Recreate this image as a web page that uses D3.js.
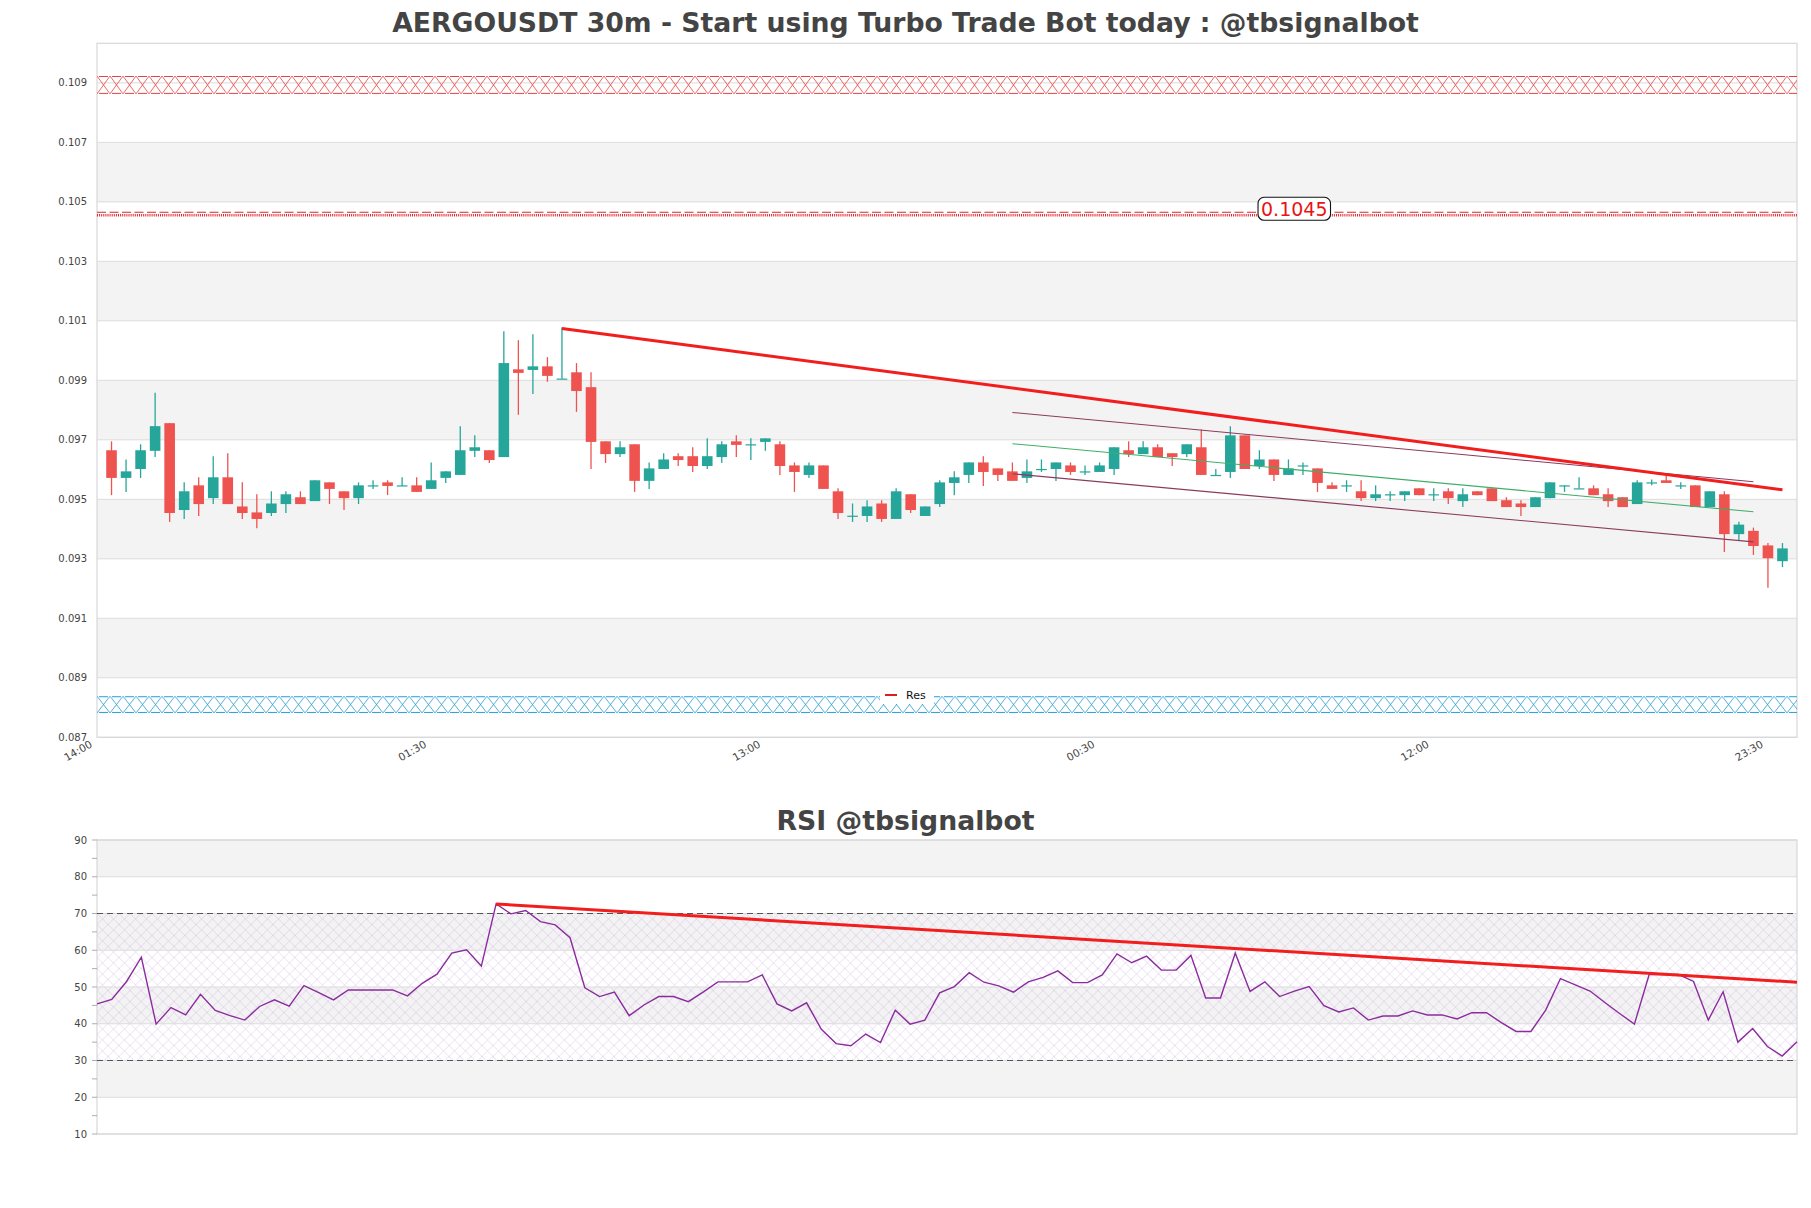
<!DOCTYPE html>
<html>
<head>
<meta charset="utf-8">
<script src="https://cdn.jsdelivr.net/npm/d3@7/dist/d3.min.js"></script>
<style>
  body { margin: 0; background: #fff; }
  svg { display: block; font-family: "DejaVu Sans", sans-serif; }
</style>
</head>
<body>
<div id="chart"></div>
<script>
'use strict';

// candles, 30m, index 1..116 (index 0 = 14:00 axis start)
var opens = [0.09665,0.09572,0.09602,0.09663,0.09756,0.09464,0.09547,0.09504,0.09574,0.09476,
  0.09456,0.09454,0.09484,0.09507,0.09494,0.09557,0.09527,0.09504,0.09545,0.09557,
  0.09545,0.09547,0.09535,0.09572,0.09582,0.09663,0.09665,0.09642,0.09937,0.09935,
  0.09947,0.09905,0.09927,0.09877,0.09695,0.09652,0.09685,0.09562,0.09602,0.09645,
  0.09645,0.09612,0.09642,0.09695,0.09684,0.09693,0.09685,0.09614,0.09582,0.09614,
  0.09527,0.09444,0.09444,0.09486,0.09434,0.09517,0.09444,0.09484,0.09555,0.09582,
  0.09624,0.09604,0.09594,0.09572,0.09601,0.09602,0.09614,0.09593,0.09592,0.09602,
  0.09665,0.09652,0.09675,0.09655,0.09652,0.09675,0.09581,0.09592,0.09715,0.09612,
  0.09634,0.09582,0.09613,0.09604,0.09547,0.09546,0.09527,0.09504,0.09516,0.09514,
  0.09537,0.09516,0.09527,0.09494,0.09527,0.09537,0.09497,0.09486,0.09474,0.09504,
  0.09546,0.09536,0.09537,0.09517,0.09507,0.09484,0.09556,0.09564,0.09546,0.09547,
  0.09474,0.09517,0.09383,0.09394,0.09345,0.09292];
var highs = [0.09695,0.09634,0.09685,0.09858,0.09756,0.09557,0.09574,0.09645,0.09655,0.09557,
  0.09517,0.09527,0.09527,0.09527,0.09564,0.09557,0.09527,0.09557,0.09564,0.09564,
  0.09574,0.09574,0.09624,0.09594,0.09746,0.09715,0.09665,0.10065,0.10035,0.10055,
  0.09978,0.10078,0.09958,0.09927,0.09695,0.09695,0.09685,0.09624,0.09655,0.09655,
  0.09675,0.09705,0.09695,0.09715,0.09705,0.09705,0.09695,0.09624,0.09624,0.09614,
  0.09537,0.09486,0.09497,0.09497,0.09537,0.09517,0.09476,0.09564,0.09594,0.09624,
  0.09645,0.09604,0.09624,0.09634,0.09634,0.09624,0.09624,0.09614,0.09624,0.09675,
  0.09695,0.09695,0.09685,0.09655,0.09685,0.09735,0.09602,0.09746,0.09715,0.09665,
  0.09634,0.09634,0.09624,0.09604,0.09557,0.09564,0.09564,0.09547,0.09527,0.09527,
  0.09537,0.09537,0.09537,0.09537,0.09527,0.09537,0.09507,0.09497,0.09507,0.09557,
  0.09547,0.09574,0.09547,0.09537,0.09507,0.09564,0.09567,0.09578,0.09557,0.09547,
  0.09527,0.09527,0.09425,0.09405,0.09353,0.09353];
var lows = [0.09514,0.09525,0.09572,0.09642,0.09424,0.09434,0.09444,0.09484,0.09484,0.09434,
  0.09403,0.09444,0.09454,0.09484,0.09494,0.09484,0.09464,0.09484,0.09535,0.09514,
  0.09545,0.09525,0.09535,0.09555,0.09582,0.09642,0.09622,0.09642,0.09784,0.09854,
  0.09895,0.09905,0.09794,0.09602,0.09622,0.09642,0.09525,0.09535,0.09602,0.09612,
  0.09592,0.09602,0.09622,0.09642,0.09632,0.09663,0.09582,0.09525,0.09572,0.09535,
  0.09434,0.09424,0.09424,0.09424,0.09434,0.09454,0.09444,0.09474,0.09514,0.09555,
  0.09545,0.09562,0.09562,0.09555,0.09592,0.09562,0.09582,0.09582,0.09592,0.09582,
  0.09642,0.09652,0.09642,0.09612,0.09642,0.09582,0.09581,0.09572,0.09602,0.09602,
  0.09562,0.09582,0.09582,0.09525,0.09535,0.09525,0.09494,0.09494,0.09494,0.09494,
  0.09514,0.09494,0.09484,0.09474,0.09514,0.09494,0.09474,0.09444,0.09474,0.09504,
  0.09525,0.09536,0.09514,0.09474,0.09474,0.09484,0.09547,0.09555,0.09535,0.09474,
  0.09474,0.09323,0.09363,0.09313,0.09203,0.09272];
var closes = [0.09572,0.09594,0.09665,0.09746,0.09454,0.09527,0.09484,0.09574,0.09484,0.09454,
  0.09434,0.09486,0.09517,0.09484,0.09564,0.09535,0.09504,0.09547,0.09547,0.09545,
  0.09547,0.09525,0.09564,0.09594,0.09665,0.09675,0.09632,0.09958,0.09925,0.09947,
  0.09915,0.09906,0.09864,0.09693,0.09652,0.09675,0.09562,0.09604,0.09634,0.09632,
  0.09612,0.09645,0.09685,0.09683,0.09685,0.09705,0.09612,0.09592,0.09614,0.09535,
  0.09454,0.09445,0.09476,0.09434,0.09527,0.09464,0.09476,0.09557,0.09574,0.09624,
  0.09592,0.09582,0.09562,0.09594,0.09602,0.09624,0.09592,0.09594,0.09614,0.09675,
  0.09652,0.09675,0.09642,0.09642,0.09685,0.09582,0.09582,0.09715,0.09602,0.09634,
  0.09582,0.09604,0.09614,0.09555,0.09535,0.09547,0.09504,0.09517,0.09517,0.09527,
  0.09514,0.09517,0.09504,0.09517,0.09514,0.09494,0.09474,0.09474,0.09507,0.09557,
  0.09547,0.09537,0.09514,0.09494,0.09474,0.09557,0.09557,0.09555,0.09547,0.09474,
  0.09527,0.09383,0.09415,0.09343,0.09302,0.09335];

var rsiValues = [45.4,46.6,51.5,58.1,39.9,44.4,42.4,48.0,43.6,42.2,
  41.0,44.7,46.5,44.8,50.4,48.5,46.5,49.2,49.2,49.2,
  49.2,47.6,51.0,53.5,59.2,60.1,55.7,72.6,69.9,70.8,
  67.8,66.9,63.4,49.8,47.4,48.6,42.2,45.1,47.4,47.4,
  46.0,48.6,51.4,51.4,51.4,53.3,45.4,43.5,45.7,38.5,
  34.6,34.0,37.2,34.9,43.7,39.9,41.0,48.4,50.1,53.9,
  51.3,50.3,48.6,51.4,52.6,54.4,51.2,51.2,53.3,59.0,
  56.6,58.4,54.6,54.6,58.6,47.0,47.0,59.2,48.8,51.4,
  47.4,48.9,50.1,44.9,43.2,44.3,41.0,42.1,42.1,43.5,
  42.4,42.4,41.3,43.0,43.0,40.3,37.9,37.9,43.7,52.3,
  50.6,48.9,45.8,42.8,39.9,53.4,53.4,53.4,51.5,41.0,
  48.7,35.0,38.7,33.8,31.2,35.1];

var timeTicks = [0, 23, 46, 69, 92, 115];
var timeLabels = ["14:00", "01:30", "13:00", "00:30", "12:00", "23:30"];
var priceTicks = [0.087, 0.089, 0.091, 0.093, 0.095, 0.097, 0.099, 0.101, 0.103, 0.105, 0.107, 0.109];
var rsiTicks = [10, 20, 30, 40, 50, 60, 70, 80, 90];
var rsiMinorTicks = [10, 15, 20, 25, 30, 35, 40, 45, 50, 55, 60, 65, 70, 75, 80, 85, 90];

// zones and levels (price)
var resistanceZone = [0.10863, 0.10923];
var supportZone = [0.08782, 0.08838];
var resLevel = [0.10452, 0.10465];
var resLevelLabel = "0.1045";
var resLabelIndex = 82.4;

// trend lines [index, value]
var resTrend = [[32, 0.10074], [116, 0.09532]];
var channelUpper = [[63, 0.09792], [114, 0.09559]];
var channelMid = [[63, 0.09687], [114, 0.09458]];
var channelLower = [[63, 0.09586], [114, 0.09357]];
var rsiTrend = [[27, 72.6], [115, 51.3]];
var rsiBounds = [30, 70];

var W = 1811, H = 1208;
var main = {left: 97, right: 1797, top: 43.3, bottom: 737.3};
var sub = {left: 97, right: 1797, top: 840, bottom: 1134};

var svg = d3.select("#chart").append("svg").attr("width", W).attr("height", H);
var defs = svg.append("defs");

var x = d3.scaleLinear().domain([0, 117]).range([main.left, main.right]);
var y = d3.scaleLinear().domain([0.087, 0.11033]).range([main.bottom, main.top]);
var xr = d3.scaleLinear().domain([0, 115]).range([sub.left, sub.right]);
var yr = d3.scaleLinear().domain([10, 90]).range([sub.bottom, sub.top]);

svg.append("rect").attr("width", W).attr("height", H).attr("fill", "#fff");

// titles
svg.append("text").attr("x", 905.5).attr("y", 32).attr("text-anchor", "middle")
  .attr("font-size", 26.7).attr("font-weight", "bold").attr("fill", "#444")
  .text("AERGOUSDT 30m - Start using Turbo Trade Bot today : @tbsignalbot");
svg.append("text").attr("x", 905.5).attr("y", 830).attr("text-anchor", "middle")
  .attr("font-size", 26.7).attr("font-weight", "bold").attr("fill", "#444")
  .text("RSI @tbsignalbot");

//hatch pattern for zones, one X per cell spanning the band height
function hatch(id, color, top, h) {
  var p = defs.append("pattern").attr("id", id).attr("patternUnits", "userSpaceOnUse")
    .attr("x", main.left).attr("y", top).attr("width", 13).attr("height", h);
  p.append("path").attr("d", "M0,0L13," + h + "M13,0L0," + h)
    .attr("stroke", color).attr("stroke-width", 0.8).attr("fill", "none");
  p.append("path").attr("d", "M2,0.6H11M2," + (h - 0.6) + "H11")
    .attr("stroke", color).attr("stroke-width", 1).attr("fill", "none");
}

// ---- main panel ----
var mainG = svg.append("g");

mainG.selectAll("rect.band").data(d3.pairs(priceTicks).filter(function(d, i){ return i % 2 === 1; }))
  .enter().append("rect").attr("class", "band")
  .attr("x", main.left).attr("width", main.right - main.left)
  .attr("y", function(d){ return y(d[1]); })
  .attr("height", function(d){ return y(d[0]) - y(d[1]); })
  .attr("fill", "#f3f3f3");

mainG.selectAll("line.grid").data(priceTicks).enter().append("line").attr("class", "grid")
  .attr("x1", main.left).attr("x2", main.right)
  .attr("y1", function(d){ return y(d); }).attr("y2", function(d){ return y(d); })
  .attr("stroke", "#dcdcdc").attr("stroke-width", 1);

mainG.append("rect").attr("x", main.left).attr("y", main.top)
  .attr("width", main.right - main.left).attr("height", main.bottom - main.top)
  .attr("fill", "none").attr("stroke", "#d8d8d8").attr("stroke-width", 1.2);

// y tick labels
mainG.selectAll("text.yt").data(priceTicks).enter().append("text").attr("class", "yt")
  .attr("x", 87).attr("y", function(d){ return y(d); }).attr("dy", "0.35em")
  .attr("text-anchor", "end").attr("font-size", 10).attr("fill", "#444")
  .text(d3.format(".3f"));

// x tick labels
mainG.selectAll("text.xt").data(timeTicks).enter().append("text").attr("class", "xt")
  .attr("transform", function(d){ return "translate(" + (x(d) - 4) + "," + (main.bottom + 9) + ") rotate(-30)"; })
  .attr("text-anchor", "end").attr("font-size", 10.5).attr("fill", "#444")
  .text(function(d, i){ return timeLabels[i]; });

// zones
var rzTop = y(resistanceZone[1]), rzH = y(resistanceZone[0]) - y(resistanceZone[1]);
hatch("hatchRed", "#e2403f", rzTop, rzH);
mainG.append("rect").attr("x", main.left).attr("width", main.right - main.left)
  .attr("y", rzTop).attr("height", rzH).attr("fill", "url(#hatchRed)");

var szTop = y(supportZone[1]), szH = y(supportZone[0]) - y(supportZone[1]);
hatch("hatchBlue", "#1f9ad8", szTop, szH);
mainG.append("rect").attr("x", main.left).attr("width", main.right - main.left)
  .attr("y", szTop).attr("height", szH).attr("fill", "url(#hatchBlue)");

// thin resistance level
mainG.append("line").attr("x1", main.left).attr("x2", main.right)
  .attr("y1", y(resLevel[1])).attr("y2", y(resLevel[1]))
  .attr("stroke", "#e0262b").attr("stroke-width", 1.2).attr("stroke-dasharray", "9,3.5");
mainG.append("line").attr("x1", main.left).attr("x2", main.right)
  .attr("y1", (y(resLevel[1]) + y(resLevel[0])) / 2 + 1).attr("y2", (y(resLevel[1]) + y(resLevel[0])) / 2 + 1)
  .attr("stroke", "#e0262b").attr("stroke-width", 2.4).attr("stroke-dasharray", "1,1.1");

// candles
var step = x(1) - x(0);
var bodyW = step * 0.73;
var candles = d3.range(opens.length).map(function(i){
  return {i: i + 1, o: opens[i], h: highs[i], l: lows[i], c: closes[i]};
});
var cg = mainG.selectAll("g.candle").data(candles).enter().append("g").attr("class", "candle");
function candleColor(d){ return d.c >= d.o ? "#26a69a" : "#ef5350"; }
cg.append("line")
  .attr("x1", function(d){ return x(d.i); }).attr("x2", function(d){ return x(d.i); })
  .attr("y1", function(d){ return y(d.h); }).attr("y2", function(d){ return y(d.l); })
  .attr("stroke", candleColor).attr("stroke-width", 1.3);
cg.append("rect")
  .attr("x", function(d){ return x(d.i) - bodyW / 2; }).attr("width", bodyW)
  .attr("y", function(d){ return y(Math.max(d.o, d.c)); })
  .attr("height", function(d){ return Math.max(1.2, Math.abs(y(d.o) - y(d.c))); })
  .attr("fill", candleColor);

// trend lines
var line = d3.line().x(function(d){ return x(d[0]); }).y(function(d){ return y(d[1]); });
mainG.append("path").datum(channelUpper).attr("d", line).attr("fill", "none")
  .attr("stroke", "#8a3a5c").attr("stroke-width", 1.1);
mainG.append("path").datum(channelLower).attr("d", line).attr("fill", "none")
  .attr("stroke", "#8a3a5c").attr("stroke-width", 1.1);
mainG.append("path").datum(channelMid).attr("d", line).attr("fill", "none")
  .attr("stroke", "#3fae6a").attr("stroke-width", 1.1);
mainG.append("path").datum(resTrend).attr("d", line).attr("fill", "none")
  .attr("stroke", "#f21d1d").attr("stroke-width", 3);

// level label
var lbl = mainG.append("g").attr("transform", "translate(" + x(resLabelIndex) + "," + (y(resLevel[1]) + 2) + ")");
var lblText = lbl.append("text").attr("text-anchor", "middle").attr("y", 2).attr("font-size", 19)
  .attr("fill", "#e81416").text(resLevelLabel);
var bb = lblText.node().getBBox();
lbl.insert("rect", "text").attr("x", bb.x - 3).attr("y", bb.y - 1).attr("width", bb.width + 6)
  .attr("height", bb.height + 1).attr("rx", 6).attr("fill", "#fff").attr("stroke", "#111").attr("stroke-width", 1.1);

// legend
var leg = mainG.append("g").attr("transform", "translate(880,686)");
leg.append("rect").attr("width", 54).attr("height", 18).attr("fill", "#fff");
leg.append("line").attr("x1", 5).attr("x2", 17).attr("y1", 9).attr("y2", 9)
  .attr("stroke", "#e01b24").attr("stroke-width", 2);
leg.append("text").attr("x", 26).attr("y", 13).attr("font-size", 11).attr("fill", "#111").text("Res");

// ---- RSI panel ----
var rsiG = svg.append("g");

rsiG.selectAll("rect.band").data(d3.pairs(rsiTicks).filter(function(d, i){ return i % 2 === 1; }))
  .enter().append("rect").attr("class", "band")
  .attr("x", sub.left).attr("width", sub.right - sub.left)
  .attr("y", function(d){ return yr(d[1]); })
  .attr("height", function(d){ return yr(d[0]) - yr(d[1]); })
  .attr("fill", "#f3f3f3");

var rp = defs.append("pattern").attr("id", "hatchRsi").attr("patternUnits", "userSpaceOnUse")
  .attr("x", sub.left).attr("y", yr(rsiBounds[1])).attr("width", 11).attr("height", 11);
rp.append("path").attr("d", "M0,0L11,11M11,0L0,11").attr("stroke", "#c9b3dc")
  .attr("stroke-width", 0.7).attr("fill", "none").attr("opacity", 0.6);
rsiG.append("rect").attr("x", sub.left).attr("width", sub.right - sub.left)
  .attr("y", yr(rsiBounds[1])).attr("height", yr(rsiBounds[0]) - yr(rsiBounds[1]))
  .attr("fill", "url(#hatchRsi)");

rsiG.selectAll("line.grid").data(rsiTicks).enter().append("line").attr("class", "grid")
  .attr("x1", sub.left).attr("x2", sub.right)
  .attr("y1", function(d){ return yr(d); }).attr("y2", function(d){ return yr(d); })
  .attr("stroke", "#dcdcdc").attr("stroke-width", 1);

rsiG.append("rect").attr("x", sub.left).attr("y", sub.top)
  .attr("width", sub.right - sub.left).attr("height", sub.bottom - sub.top)
  .attr("fill", "none").attr("stroke", "#d8d8d8").attr("stroke-width", 1.2);

rsiG.selectAll("line.bound").data(rsiBounds).enter().append("line").attr("class", "bound")
  .attr("x1", sub.left).attr("x2", sub.right)
  .attr("y1", function(d){ return yr(d); }).attr("y2", function(d){ return yr(d); })
  .attr("stroke", "#555").attr("stroke-width", 1.2).attr("stroke-dasharray", "6,4");

rsiG.selectAll("line.tick").data(rsiMinorTicks).enter().append("line").attr("class", "tick")
  .attr("x1", sub.left - 5).attr("x2", sub.left)
  .attr("y1", function(d){ return yr(d); }).attr("y2", function(d){ return yr(d); })
  .attr("stroke", "#999").attr("stroke-width", 0.8);

rsiG.selectAll("text.yt").data(rsiTicks).enter().append("text").attr("class", "yt")
  .attr("x", 87).attr("y", function(d){ return yr(d); }).attr("dy", "0.35em")
  .attr("text-anchor", "end").attr("font-size", 10).attr("fill", "#444")
  .text(function(d){ return d; });

var rsiLine = d3.line().x(function(d, i){ return xr(i); }).y(function(d){ return yr(d); });
rsiG.append("path").datum(rsiValues).attr("d", rsiLine).attr("fill", "none")
  .attr("stroke", "#8b2c9e").attr("stroke-width", 1.4);

var tline = d3.line().x(function(d){ return xr(d[0]); }).y(function(d){ return yr(d[1]); });
rsiG.append("path").datum(rsiTrend).attr("d", tline).attr("fill", "none")
  .attr("stroke", "#f21d1d").attr("stroke-width", 3);
</script>
</body>
</html>
